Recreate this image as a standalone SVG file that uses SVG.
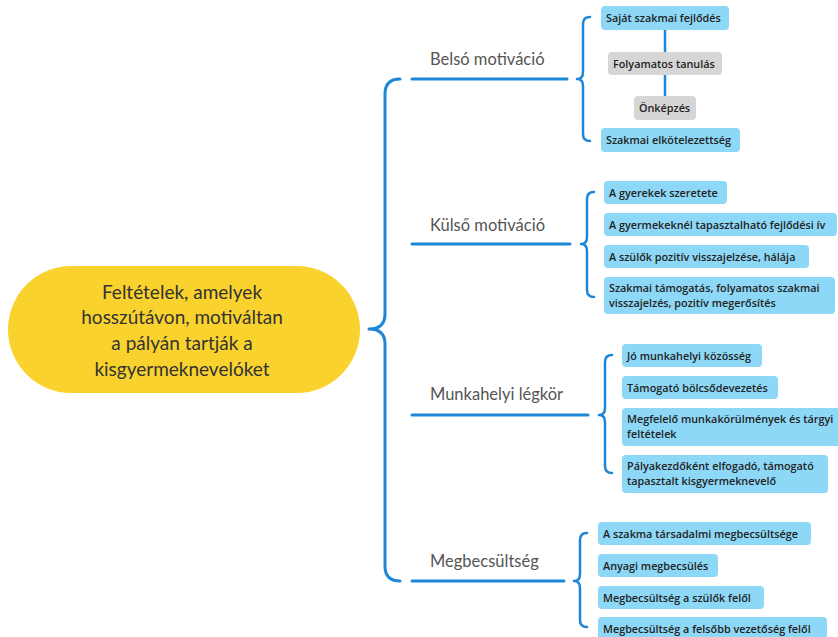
<svg xmlns="http://www.w3.org/2000/svg" width="838" height="637" viewBox="0 0 838 637">
<style>
.ln{fill:none;stroke:#1b87d6;stroke-width:3;stroke-linecap:round;stroke-linejoin:round}
.br{fill:none;stroke:#1b87d6;stroke-width:2.5;stroke-linecap:round;stroke-linejoin:round}
.box{fill:#8dd7f7}
.gbox{fill:#d6d6d6}
.t{font-family:"Open Sans",Lato,sans-serif;font-size:10.8px;font-weight:600;fill:#222}
.lab{font-family:Lato,"Noto Sans",sans-serif;font-size:16.5px;fill:#555}
.ctr{font-family:Lato,"Noto Sans",sans-serif;font-size:19px;fill:#333;text-anchor:middle}
</style>
<rect width="838" height="637" fill="#fff"/>
<g id="connectors">
<path class="ln" d="M400,79 Q385,79 385,94 L385,314 Q385,329 369,329 Q385,329 385,344 L385,566 Q385,581 400,581"/>
<path class="ln" d="M412,79 H567"/>
<path class="ln" d="M412,244 H570"/>
<path class="ln" d="M412,415 H588"/>
<path class="ln" d="M412,581 H564"/>
<path class="br" d="M590,17 Q583,17 583,24 L583,72 Q583,79 577,79 Q583,79 583,86 L583,134 Q583,141 590,141"/>
<path class="br" d="M594,192 Q587,192 587,199 L587,237 Q587,244 581,244 Q587,244 587,251 L587,290 Q587,297 594,297"/>
<path class="br" d="M612,355 Q605,355 605,362 L605,408 Q605,415 599,415 Q605,415 605,422 L605,466 Q605,473 612,473"/>
<path class="br" d="M587,533 Q580,533 580,540 L580,574 Q580,581 574,581 Q580,581 580,588 L580,620 Q580,627 587,627"/>
<path class="br" d="M665,30 V52 M665,75 V96"/>
</g>
<g id="center">
<rect x="8" y="266" width="352" height="127" rx="63.5" fill="#f9d22e"/>
<text class="ctr" x="182" y="299">Feltételek, amelyek</text>
<text class="ctr" x="182" y="324">hosszútávon, motiváltan</text>
<text class="ctr" x="182" y="350">a pályán tartják a</text>
<text class="ctr" x="182" y="376">kisgyermeknevelóket</text>
</g>
<g id="belso">
<text class="lab" x="430" y="65">Belsó motiváció</text>
</g>
<g id="belso-1"><rect class="box" x="601" y="6" width="128" height="24" rx="4"/><text class="t" x="606" y="22">Saját szakmai fejlődés</text></g>
<g id="belso-1a"><rect class="gbox" x="608" y="52" width="114" height="23" rx="4"/><text class="t" x="613" y="67.5">Folyamatos tanulás</text></g>
<g id="belso-1b"><rect class="gbox" x="634" y="96" width="62" height="24" rx="4"/><text class="t" x="639" y="112">Önképzés</text></g>
<g id="belso-2"><rect class="box" x="601" y="128" width="139" height="24" rx="4"/><text class="t" x="606" y="144">Szakmai elkötelezettség</text></g>
<g id="kulso">
<text class="lab" x="430" y="231">Külső motiváció</text>
</g>
<g id="kulso-1"><rect class="box" x="604" y="181" width="123" height="23" rx="4"/><text class="t" x="609" y="196.5">A gyerekek szeretete</text></g>
<g id="kulso-2"><rect class="box" x="604" y="213" width="233" height="23" rx="4"/><text class="t" x="609" y="228.5">A gyermekeknél tapasztalható fejlődési ív</text></g>
<g id="kulso-3"><rect class="box" x="604" y="245" width="205" height="23" rx="4"/><text class="t" x="609" y="260.5">A szülők pozitív visszajelzése, hálája</text></g>
<g id="kulso-4"><rect class="box" x="604" y="277" width="231" height="37" rx="4"/><text class="t" x="609" y="292">Szakmai támogatás, folyamatos szakmai</text><text class="t" x="609" y="307">visszajelzés, pozitív megerősítés</text></g>
<g id="munka">
<text class="lab" x="430" y="400">Munkahelyi légkör</text>
</g>
<g id="munka-1"><rect class="box" x="622" y="344" width="140" height="23" rx="4"/><text class="t" x="627" y="359.5">Jó munkahelyi közösség</text></g>
<g id="munka-2"><rect class="box" x="622" y="376" width="156" height="23" rx="4"/><text class="t" x="627" y="391.5">Támogató bölcsődevezetés</text></g>
<g id="munka-3"><rect class="box" x="622" y="408" width="230" height="38" rx="4"/><text class="t" x="627" y="423">Megfelelő munkakörülmények és tárgyi</text><text class="t" x="627" y="438">feltételek</text></g>
<g id="munka-4"><rect class="box" x="622" y="455" width="206" height="38" rx="4"/><text class="t" x="627" y="470">Pályakezdőként elfogadó, támogató</text><text class="t" x="627" y="485">tapasztalt kisgyermeknevelő</text></g>
<g id="megb">
<text class="lab" x="430" y="567">Megbecsültség</text>
</g>
<g id="megb-1"><rect class="box" x="598" y="522" width="213" height="23" rx="4"/><text class="t" x="603" y="537.5">A szakma társadalmi megbecsültsége</text></g>
<g id="megb-2"><rect class="box" x="598" y="554" width="120" height="23" rx="4"/><text class="t" x="603" y="569.5">Anyagi megbecsülés</text></g>
<g id="megb-3"><rect class="box" x="598" y="586" width="166" height="23" rx="4"/><text class="t" x="603" y="601.5">Megbecsültség a szülők felől</text></g>
<g id="megb-4"><rect class="box" x="598" y="617" width="229" height="26" rx="4"/><text class="t" x="603" y="633">Megbecsültség a felsőbb vezetőség felől</text></g>
</svg>
